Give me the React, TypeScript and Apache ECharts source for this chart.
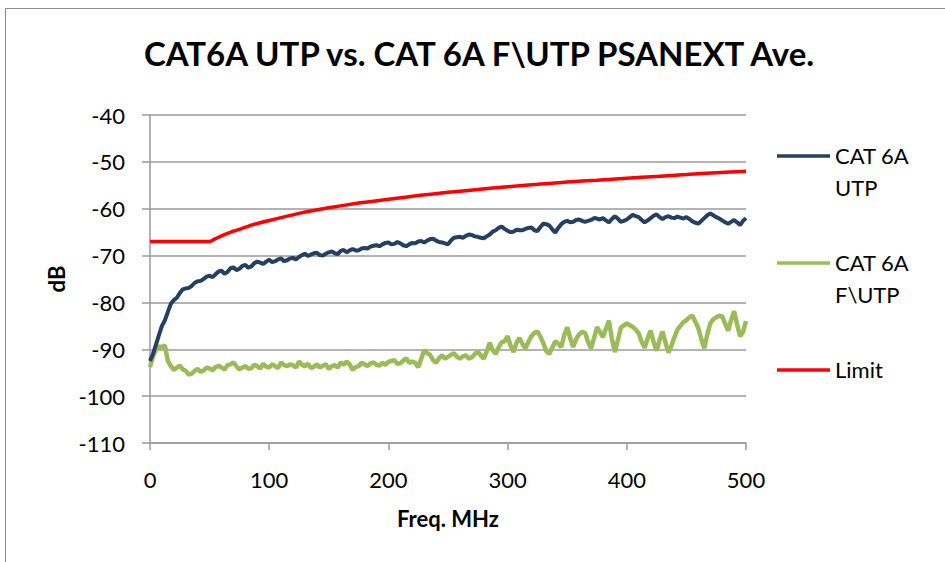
import React, { useEffect, useRef } from "react";
import * as echarts from "echarts";

const TITLE = "CAT6A UTP vs. CAT 6A F\\UTP PSANEXT Ave.";
const SERIES_NAMES = ["CAT 6A\nUTP", "CAT 6A\nF\\UTP", "Limit"];
const X_NAME = "Freq. MHz";
const Y_NAME = "dB";

// Frequency samples (MHz): main samples every 5 MHz, plus in-between samples at +2.5 MHz
const freq: number[] = [];
for (let f = 0; f <= 500; f += 5) freq.push(f);
const freqMid: number[] = freq.slice(0, 100).map((f) => f + 2.5);

const utp = [
  -92.5, -89, -85, -82, -79.5, -78, -77, -76.5, -75.5, -75,
  -74.3, -74, -73.2, -73.5, -72.5, -72.8, -72, -72.3, -71.3, -71.8,
  -70.9, -71.2, -70.6, -71, -70.5, -70.3, -69.6, -69.8, -69.4, -70,
  -69.3, -69.5, -69, -69.3, -68.6, -68.9, -68.4, -68.1, -67.8, -67.6,
  -67.2, -67.5, -67.4, -68, -67.3, -67.0, -67.2, -66.5, -66.8, -67.2,
  -67.6, -66.2, -66, -65.8, -65.6, -66, -66.3, -65.5, -64.6, -63.8,
  -64.7, -64.9, -64.6, -64.3, -64.0, -64.8, -63.2, -63.6, -65.1, -63.3,
  -62.6, -62.8, -62.3, -62.8, -62.4, -62.1, -62, -62.9, -61.6, -62.8,
  -62.3, -61.3, -61.8, -62.9, -62, -61.2, -62.2, -61.6, -62, -61.9,
  -61.8, -62.7, -63.2, -62, -61.0, -61.8, -62.5, -63.2, -62.4, -63.5,
  -62,
];
const utpMid = [
  -91, -87, -83.8, -80.3, -79, -77.2, -76.9, -75.8, -75.4, -74.5,
  -74.6, -73.4, -73.9, -72.7, -73.1, -72.2, -72.6, -71.6, -71.5, -71.3,
  -71.4, -70.8, -71.2, -70.6, -70.8, -69.9, -70.1, -69.5, -69.9, -69.6,
  -69.1, -69.7, -68.8, -68.9, -68.9, -68.5, -68.5, -67.9, -68, -67.3,
  -67.6, -67.1, -67.8, -67.6, -67.4, -66.9, -66.8, -66.4, -67.1, -67.4,
  -66.8, -66.1, -66.2, -65.5, -65.9, -66.2, -65.9, -64.9, -64.1, -64.3,
  -65, -64.5, -64.6, -64.1, -64.6, -63.9, -63.3, -64.4, -64.1, -62.8,
  -62.9, -62.4, -62.6, -62.6, -62, -62.3, -62.5, -62.2, -62.1, -62.6,
  -61.8, -61.6, -62.4, -62.5, -61.5, -61.8, -61.8, -61.9, -61.7, -62.1,
  -62.2, -63, -62.6, -61.4, -61.4, -62.1, -62.9, -62.8, -62.9, -62.6,
];

const futp = [
  -93.8, -90.2, -89.5, -92.5, -94.4, -93.5, -94.6, -95.2, -94.2, -94.5,
  -94.1, -93.8, -93.9, -93.4, -92.8, -94.3, -93.6, -94, -93.6, -93.1,
  -93.9, -93.6, -92.8, -93.6, -93.4, -92.6, -93.6, -94, -93.2, -93.5,
  -94.2, -93.4, -92.8, -92.6, -94.4, -93.6, -93.2, -93.0, -93.3, -92.9,
  -92.7, -92.3, -93, -91.9, -92.6, -93.8, -90.2, -91.2, -92.9, -91.3,
  -91.6, -90.8, -92, -91.3, -91.7, -90.5, -92, -88.6, -91, -88.5,
  -87.2, -90.6, -87.6, -89.8, -87.2, -86.2, -88.7, -91, -88.3, -89.5,
  -85.3, -89.5, -86.8, -86.5, -89.8, -85.3, -87.4, -83.9, -90.6, -85.4,
  -84.5, -85.2, -86.6, -89.7, -86, -90.3, -86.2, -90.7, -87.4, -85,
  -83.8, -82.8, -85.5, -89.8, -84.5, -83.2, -83, -86, -81.9, -87.2,
  -84,
];
const futpMid = [
  -91.5, -89.4, -89.2, -93.6, -93.9, -94.3, -95.4, -94.6, -94.8, -93.9,
  -94.5, -93.5, -94.3, -93.2, -93.6, -93.9, -94.2, -93.3, -94.1, -93.7,
  -93.2, -94, -93.4, -93.2, -93.9, -93.3, -93.1, -93.7, -93.9, -93.2,
  -93.6, -93.9, -93.3, -93.2, -93.8, -92.9, -93.6, -92.8, -93.5, -93.3,
  -92.5, -93.1, -92.4, -92.9, -92.9, -92.1, -90.8, -92.3, -91.9, -92,
  -91.2, -91.6, -91.5, -92, -91, -91.3, -90.5, -90.2, -89.6, -88.3,
  -89.2, -88.6, -88.9, -88.4, -86.5, -87.3, -90.4, -89.6, -88.8, -87,
  -87.6, -87.8, -86.3, -88.4, -87.6, -86.3, -85.6, -87.8, -88, -84.9,
  -84.9, -85.8, -88.4, -87.6, -88.5, -88, -88.6, -89.2, -85.8, -84.2,
  -83.2, -84.1, -87.8, -86.8, -83.6, -82.8, -84.5, -83.8, -84.6, -86.3,
];

const limitFreq = [0, 50, 55, 60, 70, 75, 85, 100, 125, 150, 175, 200, 225, 250, 275, 300, 325, 350, 375, 400, 425, 450, 475, 500];
const limitVal = [-67, -67, -66.4, -65.8, -64.8, -64.4, -63.5, -62.5, -61.0, -59.8, -58.8, -58.0, -57.2, -56.5, -55.9, -55.3, -54.8, -54.3, -53.9, -53.5, -53.1, -52.7, -52.3, -52.0];

const COLORS = ["#243F60", "#9BBB59", "#FF0000"];
const FONT = "Lato, 'Open Sans', sans-serif";

function interleave(main: number[], mid: number[]): number[][] {
  const out: number[][] = [];
  freq.forEach((f, i) => {
    out.push([f, main[i]]);
    if (i < freqMid.length) out.push([freqMid[i], mid[i]]);
  });
  return out;
}

export default function App() {
  const ref = useRef<HTMLDivElement>(null);
  useEffect(() => {
    if (!ref.current) return;
    const chart = echarts.init(ref.current, undefined, { renderer: "svg" });
    const legendTop = [156, 263, 370];
    const graphic: any[] = [
      {
        type: "rect",
        shape: { x: 5.5, y: 8.5, width: 1200, height: 1200 },
        style: { fill: "none", stroke: "#8c8c8c", lineWidth: 1 },
        silent: true,
      },
    ];
    SERIES_NAMES.forEach((name, i) => {
      graphic.push({
        type: "line",
        shape: { x1: 777, y1: legendTop[i], x2: 830, y2: legendTop[i] },
        style: { stroke: COLORS[i], lineWidth: 3.5 },
      });
      graphic.push({
        type: "text",
        x: 835,
        y: legendTop[i] - 16,
        style: {
          text: name,
          fill: "#000",
          font: `22px ${FONT}`,
          lineHeight: 31.5,
          verticalAlign: "top",
        },
      });
    });
    chart.setOption({
      animation: false,
      backgroundColor: "#fff",
      title: {
        text: TITLE,
        left: 474,
        top: 31,
        textAlign: "center",
        textStyle: { fontFamily: FONT, fontWeight: "bold", fontSize: 33, color: "#000" },
      },
      grid: { left: 150, right: 199, top: 115, bottom: 119 },
      xAxis: {
        type: "value",
        min: 0,
        max: 500,
        interval: 100,
        name: X_NAME,
        nameLocation: "middle",
        nameGap: 64,
        nameTextStyle: { fontFamily: FONT, fontWeight: "bold", fontSize: 22, color: "#000" },
        axisLine: { lineStyle: { color: "#9a9a9a", width: 1.5 } },
        axisTick: { show: true, length: 7, lineStyle: { color: "#9a9a9a", width: 1.5 } },
        axisLabel: { fontFamily: FONT, fontSize: 22, color: "#000", margin: 25 },
        splitLine: { show: false },
      },
      yAxis: {
        type: "value",
        min: -110,
        max: -40,
        interval: 10,
        name: Y_NAME,
        nameLocation: "middle",
        nameGap: 82,
        nameTextStyle: { fontFamily: FONT, fontWeight: "bold", fontSize: 22, color: "#000" },
        axisLine: { show: true, lineStyle: { color: "#9a9a9a", width: 1.5 } },
        axisTick: { show: true, length: 8, lineStyle: { color: "#9a9a9a", width: 1.5 } },
        axisLabel: { fontFamily: FONT, fontSize: 22, color: "#000", margin: 25 },
        splitLine: { show: true, lineStyle: { color: "#9a9a9a", width: 1.5 } },
      },
      series: [
        {
          name: SERIES_NAMES[0],
          type: "line",
          data: interleave(utp, utpMid),
          showSymbol: false,
          lineStyle: { color: COLORS[0], width: 4 },
          itemStyle: { color: COLORS[0] },
          z: 3,
        },
        {
          name: SERIES_NAMES[1],
          type: "line",
          data: interleave(futp, futpMid),
          showSymbol: false,
          lineStyle: { color: COLORS[1], width: 4.5 },
          itemStyle: { color: COLORS[1] },
          z: 2,
        },
        {
          name: SERIES_NAMES[2],
          type: "line",
          data: limitFreq.map((f, i) => [f, limitVal[i]]),
          showSymbol: false,
          smooth: 0.2,
          lineStyle: { color: COLORS[2], width: 3.5 },
          itemStyle: { color: COLORS[2] },
          z: 4,
        },
      ],
      graphic,
    });
    return () => chart.dispose();
  }, []);
  return <div ref={ref} style={{ width: 945, height: 562, position: "absolute", left: 0, top: 0 }} />;
}
